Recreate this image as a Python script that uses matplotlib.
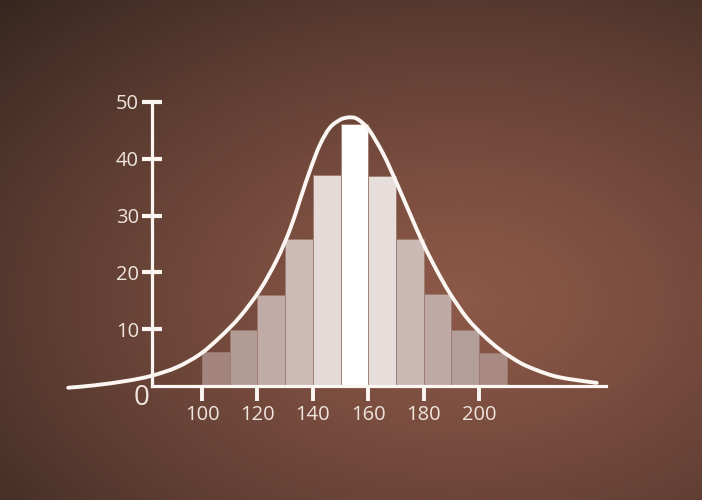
import numpy as np
import matplotlib
matplotlib.use("Agg")
import matplotlib.pyplot as plt
from matplotlib.path import Path
from matplotlib.patches import PathPatch

# ---- data ----
bin_left = [100, 110, 120, 130, 140, 150, 160, 170, 180, 190, 200]
bin_width = 10
counts = [6, 9.8, 16, 25.8, 37.2, 46.2, 37.0, 25.8, 16.2, 9.8, 5.8]

curve_x = [51.7, 60.8, 72.8, 81.8, 90.9, 99.3, 106.5, 113.7, 120.9, 127.0,
           131.8, 135.4, 139.0, 142.6, 146.2, 149.8, 151.8, 153.5, 155.5, 158.0,
           160.6, 165.5, 170.3, 175.1, 179.9, 184.7, 189.5, 195.6, 201.6, 207.6,
           214.8, 220.8, 226.8, 232.9, 242.5]
curve_y = [-0.3, 0.1, 0.9, 1.8, 3.3, 5.6, 8.6, 12.2, 16.9, 22.2,
           27.6, 32.8, 38.0, 42.5, 45.5, 46.85, 47.2, 47.3, 47.15, 46.3,
           44.9, 40.8, 35.7, 30.3, 25.0, 20.4, 16.3, 12.0, 8.9, 6.4,
           4.1, 2.8, 1.8, 1.2, 0.55]

yticks = [10, 20, 30, 40, 50]
xticks = [100, 120, 140, 160, 180, 200]

# ---- style ----
bar_colors = ['#a3857e', '#b39c96', '#c0aba6', '#ccbab6', '#e4dad8', '#ffffff',
              '#e7dedc', '#cbb9b5', '#bfaaa5', '#b49e99', '#a88a83']
chalk = '#fbf6f2'
label_col = '#efe4de'
font = 'Open Sans'

W, H = 702, 500
fig = plt.figure(figsize=(W / 100, H / 100), dpi=100)

# background radial gradient
bg = fig.add_axes([0, 0, 1, 1], zorder=0)
yy, xx = np.mgrid[0:H, 0:W]
d = np.sqrt(((xx - 460) / 640.0) ** 2 + ((yy - 300) / 420.0) ** 2)
t = np.clip(d, 0, 1) ** 1.3
c_in = np.array([140, 88, 72]) / 255.0
c_out = np.array([56, 39, 32]) / 255.0
img = c_in[None, None, :] * (1 - t[..., None]) + c_out[None, None, :] * t[..., None]
bg.imshow(img, extent=[0, W, H, 0], aspect='auto', interpolation='bilinear')
bg.set_axis_off()

# main axes mapped to pixel layout
x0, x1 = 45, 250
y0, y1 = -3, 52
px = lambda v: 202 + (v - 100) * 2.77
py = lambda v: 386 - v * 5.68
left = px(x0) / W
right = px(x1) / W
bottom = (H - py(y0)) / H
top = (H - py(y1)) / H
ax = fig.add_axes([left, bottom, right - left, top - bottom], zorder=1)
ax.patch.set_alpha(0)
ax.set_xlim(x0, x1)
ax.set_ylim(y0, y1)

ax.bar(bin_left, counts, width=bin_width, align='edge', color=bar_colors,
       edgecolor='#9c7a70', linewidth=0.6, zorder=2)

# smooth rendering of the read curve points (Catmull-Rom as cubic Bezier)
P = np.column_stack([curve_x, curve_y])
verts = [P[0]]
codes = [Path.MOVETO]
n = len(P)
for i in range(n - 1):
    p0 = P[i - 1] if i > 0 else P[i]
    p1, p2 = P[i], P[i + 1]
    p3 = P[i + 2] if i + 2 < n else P[i + 1]
    c1 = p1 + (p2 - p0) / 6.0
    c2 = p2 - (p3 - p1) / 6.0
    verts += [c1, c2, p2]
    codes += [Path.CURVE4] * 3
ax.add_patch(PathPatch(Path(verts, codes), fill=False, edgecolor=chalk, lw=2.8,
                       capstyle='round', zorder=4))

for s in ['top', 'right']:
    ax.spines[s].set_visible(False)
ax.spines['left'].set_position(('data', 82))
ax.spines['bottom'].set_position(('data', 0))
ax.spines['left'].set_bounds(0, 50)
ax.spines['bottom'].set_bounds(82, 246)
for s in ['left', 'bottom']:
    ax.spines[s].set_color(chalk)
    ax.spines[s].set_linewidth(2.3)
    ax.spines[s].set_capstyle('projecting')
    ax.spines[s].set_zorder(3)

ax.set_yticks(yticks)
ax.set_yticklabels([str(v) for v in yticks])
ax.set_xticks(xticks)
ax.set_xticklabels([str(v) for v in xticks])
ax.tick_params(axis='y', direction='inout', length=15, width=3.0, color=chalk,
               pad=2, labelsize=14.5, labelcolor=label_col)
ax.tick_params(axis='x', direction='out', length=11, width=2.8, color=chalk,
               pad=3, labelsize=14.5, labelcolor=label_col)
for lab in ax.get_xticklabels() + ax.get_yticklabels():
    lab.set_fontfamily(font)

ax.text(78.2, -2.2, '0', ha='center', va='center', fontsize=20, color=label_col,
        fontfamily=font, zorder=5)

fig.savefig('out.png', dpi=100)
